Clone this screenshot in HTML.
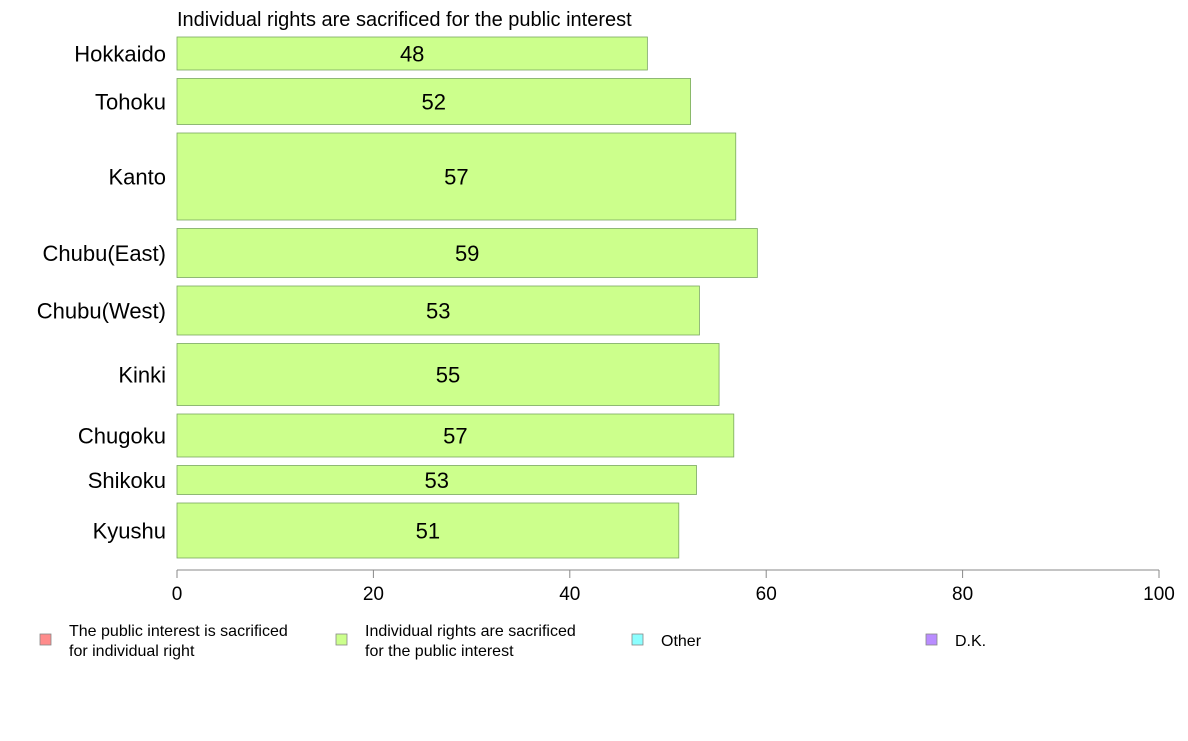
<!DOCTYPE html>
<html><head><meta charset="utf-8"><style>
body{margin:0;background:#fff;font-family:"Liberation Sans",Arial,sans-serif}
</style></head><body>
<svg id="chart" width="1188" height="736" xmlns="http://www.w3.org/2000/svg" font-family="Liberation Sans, Arial, sans-serif">
<text x="177" y="26" font-size="20" fill="#000">Individual rights are sacrificed for the public interest</text>
<g id="bars"></g>
<g id="axis"></g>
<g id="legend"></g>
</svg>
<script>
const categories=["Hokkaido","Tohoku","Kanto","Chubu(East)","Chubu(West)","Kinki","Chugoku","Shikoku","Kyushu"];
const values=[47.9,52.3,56.9,59.1,53.2,55.2,56.7,52.9,51.1];
const labels=["48","52","57","59","53","55","57","53","51"];
const weights=[33,46,87,49,49,62,43,29,55];
const ticks=[0,20,40,60,80,100];
(function(){
const NS="http://www.w3.org/2000/svg";
const x0=177,x1=1159,yTop=37,yBottom=558,gap=8.5;
const xs=v=>x0+(x1-x0)*v/100;
function mk(t,a,p){const e=document.createElementNS(NS,t);for(const k in a)e.setAttribute(k,a[k]);p.appendChild(e);return e;}
const bars=document.getElementById('bars');
const tw=weights.reduce((a,b)=>a+b,0);
const avail=yBottom-yTop-gap*(weights.length-1);
let y=yTop;
categories.forEach((c,i)=>{
 const h=avail*weights[i]/tw;
 const r=mk('rect',{x:x0,y:y,width:xs(values[i])-x0,height:h,fill:'#ccff8c',stroke:'#7aa860','stroke-width':0.8},bars);
 
 
 const t=mk('text',{x:(x0+xs(values[i]))/2,y:y+h/2+8,'font-size':22,'text-anchor':'middle'},bars);
 t.textContent=labels[i];
 
 
 const l=mk('text',{x:166,y:y+h/2+8,'font-size':22,'text-anchor':'end'},bars);
 l.textContent=c;
 
 
 y+=h+gap;
});
const ax=document.getElementById('axis');
const ln=mk('line',{x1:x0,x2:x1,y1:570,y2:570,stroke:'#888','stroke-width':1},ax);


ticks.forEach(v=>{
 const tk=mk('line',{x1:xs(v),x2:xs(v),y1:570,y2:578,stroke:'#888'},ax);
 
 
 const t=mk('text',{x:xs(v),y:600,'font-size':19,'text-anchor':'middle'},ax);
 t.textContent=v;
 
 
});
const leg=[["The public interest is sacrificed","for individual right","#ff8c8c",40],["Individual rights are sacrificed","for the public interest","#ccff8c",336],["Other","","#8cffff",632],["D.K.","","#b98cff",926]];
const lg=document.getElementById('legend');
leg.forEach(d=>{
 const r=mk('rect',{x:d[3],y:634,width:11,height:11,fill:d[2],stroke:'#888','stroke-width':0.8},lg);
 
 
 const t=mk('text',{x:d[3]+29,y:d[1]?636:646,'font-size':16},lg);
 
 
 const s1=mk('tspan',{x:d[3]+29},t);s1.textContent=d[0];
 if(d[1]){const s2=mk('tspan',{x:d[3]+29,dy:20},t);s2.textContent=d[1];}
});
})();
</script>
</body></html>
